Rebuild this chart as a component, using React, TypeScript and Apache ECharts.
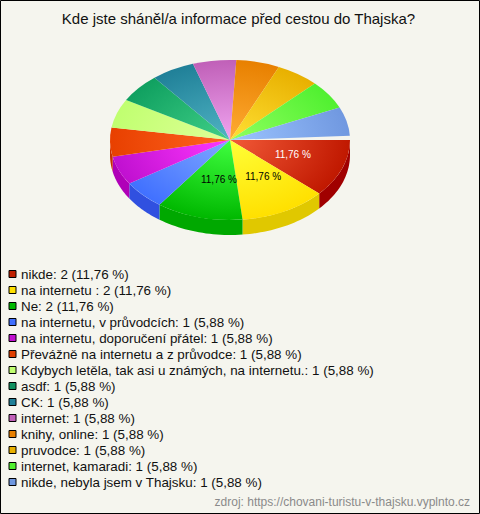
import React, { useEffect, useRef } from "react";
import * as echarts from "echarts";

const title = "Kde jste sháněl/a informace před cestou do Thajska?";
const source = "zdroj: https://chovani-turistu-v-thajsku.vyplnto.cz";
const categories = [
  "nikde", "na internetu ", "Ne", "na internetu, v průvodcích", "na internetu, doporučení přátel",
  "Převážně na internetu a z průvodce", "Kdybych letěla, tak asi u známých, na internetu.", "asdf", "CK",
  "internet", "knihy, online", "pruvodce", "internet, kamaradi", "nikde, nebyla jsem v Thajsku",
];
const values = [2, 2, 2, 1, 1, 1, 1, 1, 1, 1, 1, 1, 1, 1];
const percents = ["11,76", "11,76", "11,76", "5,88", "5,88", "5,88", "5,88", "5,88", "5,88", "5,88", "5,88", "5,88", "5,88", "5,88"];
const innerColors = ["#f25a38", "#ffff38", "#40ff40", "#80a8ff", "#ff38ff", "#ff6420", "#e0ff98", "#40d088", "#50b4c4", "#f0a4f0", "#ffac34", "#ffe034", "#90ff60", "#9cc4ff"];
const outerColors = ["#c01800", "#ffe000", "#00b800", "#4070ff", "#c010d0", "#e84000", "#c0ff70", "#10a060", "#208098", "#c060b8", "#e88000", "#e8b000", "#50f030", "#7098e0"];
const sideColors = ["#a00000", "#e0c800", "#00a800", "#3050e0", "#b000b8", "#c83000", "#a0e060", "#108050", "#186880", "#a050a0", "#c86800", "#c89000", "#40d020", "#5080c0"];
const swatchColors = ["#c02000", "#ffe000", "#00b800", "#4070ff", "#c010d0", "#e04000", "#c0ff70", "#109060", "#208098", "#c060b8", "#e88000", "#e8b000", "#50f030", "#7098e0"];

const CX = 230, CY = 140, R = 120, SY = 2 / 3, DEPTH = 15, LABEL_R = 62, GAP = 0.052;
const total = values.reduce((a, b) => a + b, 0);
const angleOf = (i: number) => (values.slice(0, i).reduce((a, b) => a + b, 0) / total) * (Math.PI * 2 - GAP);

function renderSlice(params: any) {
  const i = params.seriesIndex;
  const s = angleOf(i), e = angleOf(i + 1);
  const children: any[] = [];
  const a0 = Math.max(s, 0), a1 = Math.min(e, Math.PI);
  if (a1 > a0) {
    const n = 24;
    const top: number[][] = [], bottom: number[][] = [];
    for (let k = 0; k <= n; k++) {
      const a = a0 + ((a1 - a0) * k) / n;
      const x = CX + R * Math.cos(a), y = CY + R * SY * Math.sin(a);
      top.push([x, y]);
      bottom.unshift([x, y + DEPTH]);
    }
    children.push({ type: "polygon", shape: { points: top.concat(bottom) }, style: { fill: sideColors[i] } });
  }
  children.push({
    type: "group", x: CX, y: CY, scaleY: SY,
    children: [{
      type: "sector",
      shape: { cx: 0, cy: 0, r: R, r0: 0, startAngle: s, endAngle: e, clockwise: true },
      style: {
        fill: new echarts.graphic.RadialGradient(0, 0, R, [
          { offset: 0, color: innerColors[i] }, { offset: 1, color: outerColors[i] },
        ], true),
      },
    }],
  });
  if (values[i] / total > 0.1) {
    const m = (s + e) / 2;
    children.push({
      type: "text",
      style: {
        x: CX + LABEL_R * Math.cos(m) + 5, y: CY + LABEL_R * SY * Math.sin(m),
        text: percents[i] + " %", align: "center", verticalAlign: "middle",
        fill: i === 0 ? "#ffffff" : "#000000", font: '10px "Liberation Sans", Arial, sans-serif',
      },
      z2: 100,
    });
  }
  return { type: "group", children };
}

export default function App() {
  const ref = useRef<HTMLDivElement>(null);
  useEffect(() => {
    document.body.style.margin = "0";
    const chart = echarts.init(ref.current!, null, { renderer: "svg" });
    const names = categories.map((c, i) => `${c}: ${values[i]} (${percents[i]} %)`);
    chart.setOption({
      animation: false,
      backgroundColor: "#f5f5ee",
      title: {
        text: title, left: 233.5, top: 6, textAlign: "center",
        textStyle: { fontFamily: '"Liberation Sans", Arial, sans-serif', fontSize: 15, fontWeight: "normal", color: "#111" },
      },
      legend: {
        orient: "vertical", left: 8.5, top: 267, height: 240, padding: 0, itemWidth: 7, itemHeight: 7, itemGap: 2,
        selectedMode: false, icon: "rect",
        textStyle: { fontFamily: '"Liberation Sans", Arial, sans-serif', fontSize: 13.4, color: "#111", lineHeight: 14 },
        data: names.map((name, i) => ({ name, itemStyle: { color: swatchColors[i], borderColor: "#000", borderWidth: 1 } })),
      },
      graphic: [
        { type: "rect", shape: { x: 0.5, y: 0.5, width: 479, height: 513 }, style: { fill: "none", stroke: "#000", lineWidth: 1 }, silent: true },
        { type: "text", style: { x: 470, y: 502, text: source, align: "right", verticalAlign: "middle", fill: "#8a8a8a", font: '12px "Liberation Sans", Arial, sans-serif' }, silent: true },
      ],
      series: names.map((name, i) => ({
        type: "custom", name, coordinateSystem: "none", silent: true,
        itemStyle: { color: swatchColors[i] },
        data: [[values[i]]], renderItem: renderSlice,
      })),
    });
    return () => chart.dispose();
  }, []);
  return <div ref={ref} style={{ width: 480, height: 514 }} />;
}
